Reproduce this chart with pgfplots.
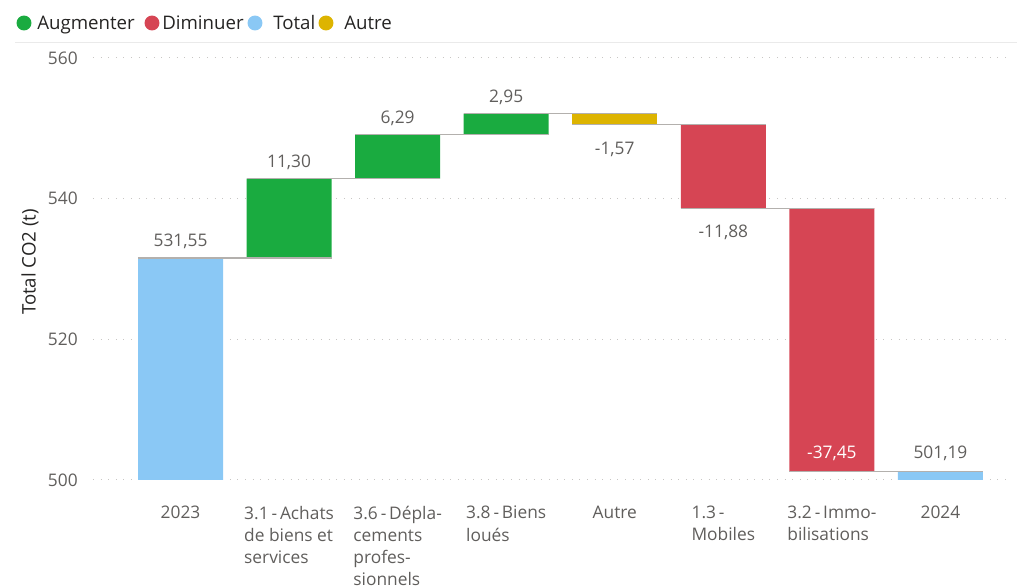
\documentclass[border=0pt]{standalone}
\usepackage{fontspec}
\setmainfont{Open Sans}
\usepackage{pgfplots}
\pgfplotsset{compat=1.18}

\definecolor{inc}{HTML}{1AAB40}
\definecolor{dec}{HTML}{D64554}
\definecolor{tot}{HTML}{8AC8F5}
\definecolor{oth}{HTML}{DDB400}
\definecolor{lbl}{HTML}{605E5C}
\definecolor{dark}{HTML}{252423}
\definecolor{grd}{HTML}{C8C6C4}
\definecolor{conn}{HTML}{B3B0AD}
\definecolor{sep}{HTML}{EAEAEA}

% same frame for the bars and the connector overlay
\pgfplotsset{wf/.style={width=689.25pt,height=316.5pt,scale only axis,
  xmin=-0.806,xmax=7.659,ymin=500,ymax=560}}
\tikzset{lab/.style={font=\fontsize{13}{16}\selectfont,text=lbl,inner sep=0pt}}

\begin{document}
\begin{tikzpicture}
\path[use as bounding box] (-69.75pt,-80.25pt) rectangle (693pt,360pt);
\begin{axis}[wf,ybar stacked,bar width=0.783,
  axis line style={draw=none},major tick length=0pt,
  ytick={500,520,540,560},ymajorgrids,
  grid style={grd,line width=0.8pt,dash pattern=on 0.8pt off 4.9pt},
  xtick={0,...,7},
  xticklabels={2023,{3.1\,-\,Achats\\de biens et\\services},{3.6\,-\,Dépla-\\cements\\profes-\\sionnels},{3.8\,-\,Biens\\loués},Autre,{1.3\,-\\Mobiles},{3.2\,-\,Immo-\\bilisations},2024},
  xticklabel style={anchor=north,align=left,inner sep=0pt,yshift=-19.5pt,
    font=\fontsize{13}{16.6}\selectfont,text=lbl},
  yticklabel style={anchor=east,inner sep=0pt,xshift=-11.25pt,
    font=\fontsize{13}{16}\selectfont,text=lbl},
  /pgf/number format/assume math mode=true]
% invisible base of each floating bar
\addplot[draw=none,fill=none] coordinates {(0,0) (1,531.55) (2,542.85) (3,549.14) (4,550.52) (5,538.64) (6,501.19) (7,0)};
\addplot[draw=none,fill=inc] coordinates {(0,0) (1,11.30) (2,6.29) (3,2.95) (4,0) (5,0) (6,0) (7,0)};
\addplot[draw=none,fill=dec] coordinates {(0,0) (1,0) (2,0) (3,0) (4,0) (5,11.88) (6,37.45) (7,0)};
\addplot[draw=none,fill=tot] coordinates {(0,531.55) (1,0) (2,0) (3,0) (4,0) (5,0) (6,0) (7,501.19)};
\addplot[draw=none,fill=oth] coordinates {(0,0) (1,0) (2,0) (3,0) (4,1.57) (5,0) (6,0) (7,0)};
\end{axis}
\begin{axis}[wf,hide axis]
\addplot[conn,line width=1.1pt] coordinates {(-0.392,531.55) (1.392,531.55)};
\addplot[conn,line width=1.1pt] coordinates {(0.608,542.85) (2.392,542.85)};
\addplot[conn,line width=1.1pt] coordinates {(1.608,549.14) (3.392,549.14)};
\addplot[conn,line width=1.1pt] coordinates {(2.608,552.09) (4.392,552.09)};
\addplot[conn,line width=1.1pt] coordinates {(3.608,550.52) (5.392,550.52)};
\addplot[conn,line width=1.1pt] coordinates {(4.608,538.64) (6.392,538.64)};
\addplot[conn,line width=1.1pt] coordinates {(5.608,501.19) (7.392,501.19)};
% value labels
\node[lab,anchor=base,yshift=8.5pt] at (axis cs:0,531.55) {531,55};
\node[lab,anchor=base,yshift=8.5pt] at (axis cs:1,542.85) {11,30};
\node[lab,anchor=base,yshift=8.5pt] at (axis cs:2,549.14) {6,29};
\node[lab,anchor=base,yshift=8.5pt] at (axis cs:3,552.09) {2,95};
\node[lab,anchor=base,yshift=-22.2pt] at (axis cs:4,550.52) {-1,57};
\node[lab,anchor=base,yshift=-22.2pt] at (axis cs:5,538.64) {-11,88};
\node[lab,anchor=base,yshift=9.5pt,text=white] at (axis cs:6,501.19) {-37,45};
\node[lab,anchor=base,yshift=9.5pt] at (axis cs:7,501.19) {501,19};
\end{axis}
% legend
\draw[sep,line width=0.75pt] (-58.5pt,328.5pt) -- (693pt,328.5pt);
\tikzset{leg/.style={anchor=base west,inner sep=0pt,font=\fontsize{14}{17}\selectfont,text=dark}}
\fill[inc] (-51.75pt,342.75pt) circle (5.6pt);
\node[leg] at (-42pt,338pt) {Augmenter};
\fill[dec] (44.25pt,342.75pt) circle (5.6pt);
\node[leg] at (51.75pt,338pt) {Diminuer};
\fill[tot] (121.5pt,342.75pt) circle (5.6pt);
\node[leg] at (135pt,338pt) {Total};
\fill[oth] (174.75pt,342.75pt) circle (5.6pt);
\node[leg] at (188.25pt,338pt) {Autre};
\node[rotate=90,font=\fontsize{14}{17}\selectfont,text=dark] at (-47.25pt,163.5pt) {Total CO2 (t)};
\end{tikzpicture}
\end{document}
